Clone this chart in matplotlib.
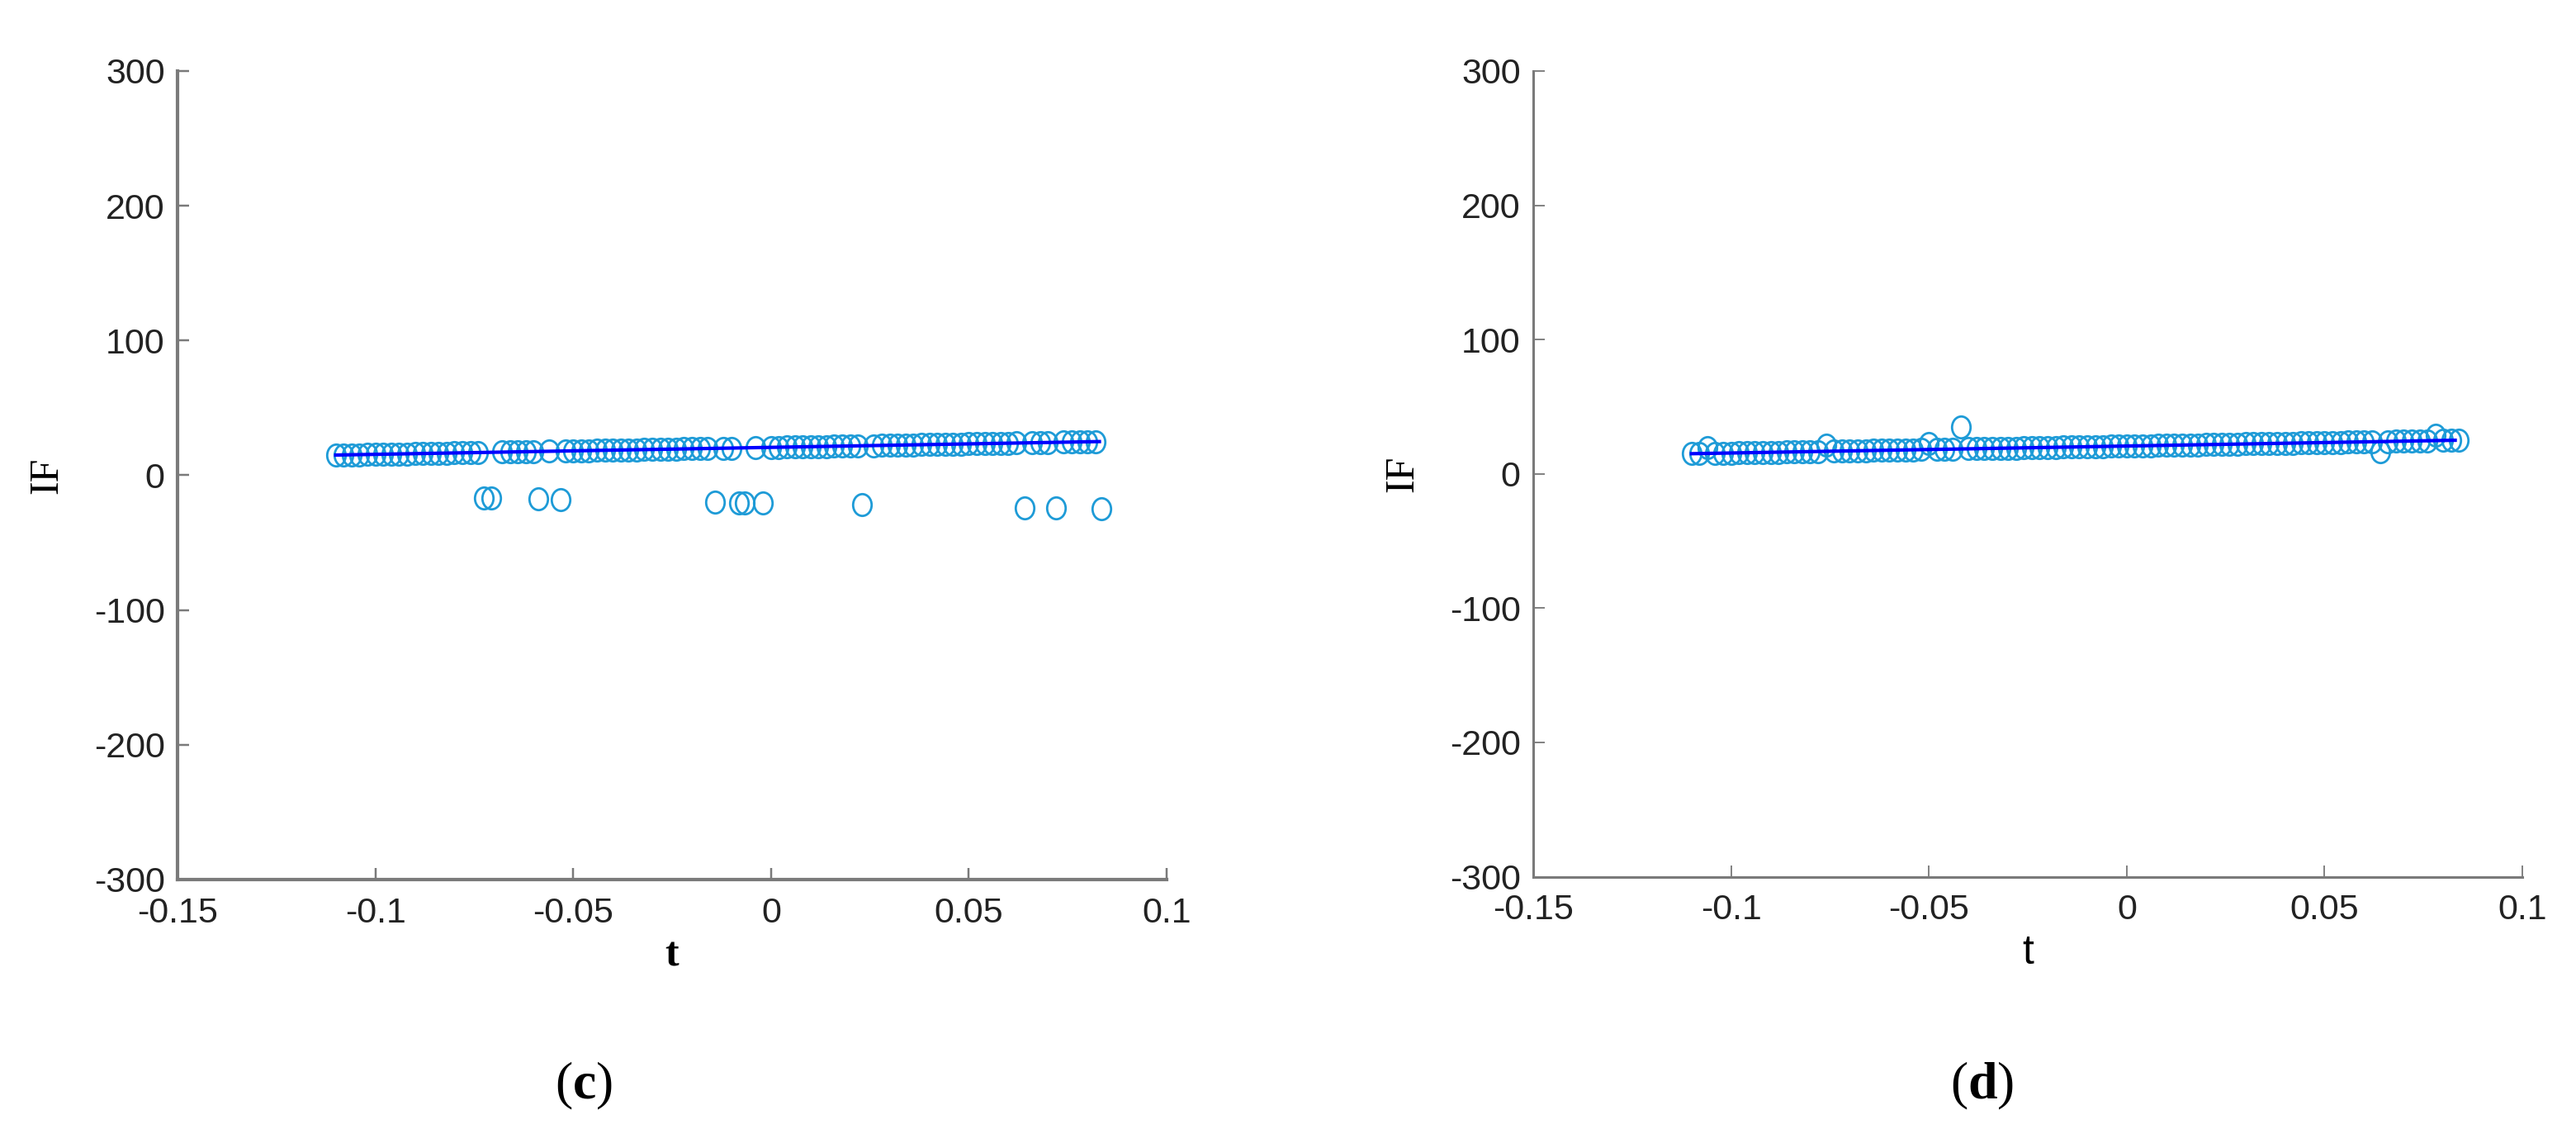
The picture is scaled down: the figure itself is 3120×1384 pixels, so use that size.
import numpy as np
import matplotlib.pyplot as plt
from matplotlib.path import Path

plt.rcParams['mathtext.fontset'] = 'custom'
plt.rcParams['mathtext.rm'] = 'Liberation Serif'
plt.rcParams['mathtext.bf'] = 'Liberation Serif:bold'

# panel (c): estimated IF (a few samples come out with the wrong sign)
t_c = [-0.110, -0.108, -0.106, -0.104, -0.102, -0.100, -0.098, -0.096, -0.094, -0.092,
       -0.090, -0.088, -0.086, -0.084, -0.082, -0.080, -0.078, -0.076, -0.074, -0.0725,
       -0.0706, -0.068, -0.066, -0.064, -0.062, -0.060, -0.0588, -0.056, -0.0531, -0.052,
       -0.050, -0.048, -0.046, -0.044, -0.042, -0.040, -0.038, -0.036, -0.034, -0.032,
       -0.030, -0.028, -0.026, -0.024, -0.022, -0.020, -0.018, -0.016, -0.0142, -0.012,
       -0.010, -0.0081, -0.0067, -0.004, -0.0021, 0.000, 0.002, 0.004, 0.006, 0.008,
       0.010, 0.012, 0.014, 0.016, 0.018, 0.020, 0.022, 0.023, 0.026, 0.028,
       0.030, 0.032, 0.034, 0.036, 0.038, 0.040, 0.042, 0.044, 0.046, 0.048,
       0.050, 0.052, 0.054, 0.056, 0.058, 0.060, 0.062, 0.064, 0.066, 0.068,
       0.070, 0.072, 0.074, 0.076, 0.078, 0.080, 0.082, 0.0835]
if_c = [15.0, 15.1, 15.2, 15.3, 15.4, 15.5, 15.6, 15.7, 15.8, 15.9,
        16.0, 16.1, 16.2, 16.3, 16.5, 16.6, 16.7, 16.8, 16.9, -17.0,
        -17.1, 17.2, 17.3, 17.4, 17.5, 17.6, -17.7, 17.8, -17.9, 18.0,
        18.1, 18.2, 18.3, 18.4, 18.5, 18.6, 18.7, 18.8, 18.9, 19.0,
        19.1, 19.2, 19.4, 19.5, 19.6, 19.7, 19.8, 19.9, -20.0, 20.1,
        20.2, -20.3, -20.4, 20.5, -20.6, 20.7, 20.8, 20.9, 21.0, 21.1,
        21.2, 21.3, 21.4, 21.5, 21.6, 21.7, 21.8, -21.9, 22.0, 22.1,
        22.3, 22.4, 22.5, 22.6, 22.7, 22.8, 22.9, 23.0, 23.1, 23.2,
        23.3, 23.4, 23.5, 23.6, 23.7, 23.8, 23.9, -24.0, 24.1, 24.2,
        24.3, -24.4, 24.5, 24.6, 24.7, 24.8, 24.9, -25.0]

# panel (d): estimated IF
t_d = [-0.110, -0.108, -0.106, -0.104, -0.102, -0.100, -0.098, -0.096, -0.094, -0.092,
       -0.090, -0.088, -0.086, -0.084, -0.082, -0.080, -0.078, -0.076, -0.074, -0.072,
       -0.070, -0.068, -0.066, -0.064, -0.062, -0.060, -0.058, -0.056, -0.054, -0.052,
       -0.050, -0.048, -0.046, -0.044, -0.042, -0.040, -0.038, -0.036, -0.034, -0.032,
       -0.030, -0.028, -0.026, -0.024, -0.022, -0.020, -0.018, -0.016, -0.014, -0.012,
       -0.010, -0.008, -0.006, -0.004, -0.002, 0.000, 0.002, 0.004, 0.006, 0.008,
       0.010, 0.012, 0.014, 0.016, 0.018, 0.020, 0.022, 0.024, 0.026, 0.028,
       0.030, 0.032, 0.034, 0.036, 0.038, 0.040, 0.042, 0.044, 0.046, 0.048,
       0.050, 0.052, 0.054, 0.056, 0.058, 0.060, 0.062, 0.064, 0.066, 0.068,
       0.070, 0.072, 0.074, 0.076, 0.078, 0.080, 0.082, 0.084]
if_d = [15.0, 15.1, 19.5, 15.3, 15.4, 15.5, 15.6, 15.7, 15.8, 15.9,
        16.0, 16.1, 16.2, 16.3, 16.5, 16.6, 16.7, 21.5, 16.9, 17.0,
        17.1, 17.2, 17.3, 17.4, 17.5, 17.6, 17.7, 17.8, 17.9, 18.0,
        22.5, 18.2, 18.3, 18.4, 35.0, 18.6, 18.7, 18.8, 18.9, 19.0,
        19.1, 19.2, 19.4, 19.5, 19.6, 19.7, 19.8, 19.9, 20.0, 20.1,
        20.2, 20.3, 20.4, 20.5, 20.6, 20.7, 20.8, 20.9, 21.0, 21.1,
        21.2, 21.3, 21.4, 21.5, 21.6, 21.7, 21.8, 21.9, 22.0, 22.1,
        22.3, 22.4, 22.5, 22.6, 22.7, 22.8, 22.9, 23.0, 23.1, 23.2,
        23.3, 23.4, 23.5, 23.6, 23.7, 23.8, 23.9, 16.5, 24.1, 24.2,
        24.3, 24.4, 24.5, 24.6, 29.0, 24.8, 24.9, 25.0]

# true IF (straight line)
line_t = [-0.110, 0.083]
line_if = [15.0, 25.0]

x_ticks = [-0.15, -0.1, -0.05, 0, 0.05, 0.1]
x_labels = ['-0.15', '-0.1', '-0.05', '0', '0.05', '0.1']
y_ticks = [-300, -200, -100, 0, 100, 200, 300]
y_labels = ['-300', '-200', '-100', '0', '100', '200', '300']

circ_col = '#1E9BD7'
axis_col = '#7a7a7a'

# circles in the figure are slightly taller than wide
uc = Path.unit_circle()
oval = Path(uc.vertices * np.array([0.85, 1.0]), uc.codes)

fig = plt.figure(figsize=(31.2, 13.84), dpi=100)
ax_c = fig.add_axes([0.0689, 0.2305, 0.384, 0.7074])
ax_d = fig.add_axes([0.5952, 0.2330, 0.384, 0.7049])

panels = [(ax_c, t_c, if_c, 3.0), (ax_d, t_d, if_d, 2.2)]
for ax, tt, ff, spw in panels:
    ax.plot(tt, ff, linestyle='none', marker=oval, mfc='none', mec=circ_col, ms=19, mew=2)
    ax.plot(line_t, line_if, color='#0000FF', lw=3)
    ax.set_xlim(-0.15, 0.1)
    ax.set_ylim(-300, 300)
    ax.set_xticks(x_ticks)
    ax.set_xticklabels(x_labels)
    ax.set_yticks(y_ticks)
    ax.set_yticklabels(y_labels)
    for s in ['top', 'right']:
        ax.spines[s].set_visible(False)
    for s in ['left', 'bottom']:
        ax.spines[s].set_color(axis_col)
        ax.spines[s].set_linewidth(spw)
    ax.tick_params(direction='in', length=10, width=spw * 0.6, color=axis_col,
                   labelsize=31, labelcolor='#222222')
    ax.tick_params(axis='x', pad=15)
    ax.tick_params(axis='y', pad=11)
    for lab in ax.get_xticklabels() + ax.get_yticklabels():
        lab.set_fontfamily('Liberation Sans')
    ax.set_ylabel('IF', fontfamily='Liberation Serif', fontsize=36, labelpad=24)

ax_c.set_xlabel('t', fontfamily='Liberation Serif', fontweight='bold', fontsize=36, labelpad=6)
ax_d.set_xlabel('t', fontfamily='Liberation Sans', fontsize=36, labelpad=6)

fig.text(0.2265, 0.05, r'($\mathbf{c}$)', fontfamily='Liberation Serif', fontsize=46,
         ha='center', va='center')
fig.text(0.7695, 0.05, r'($\mathbf{d}$)', fontfamily='Liberation Serif', fontsize=46,
         ha='center', va='center')

fig.savefig('out.png', dpi=100)
